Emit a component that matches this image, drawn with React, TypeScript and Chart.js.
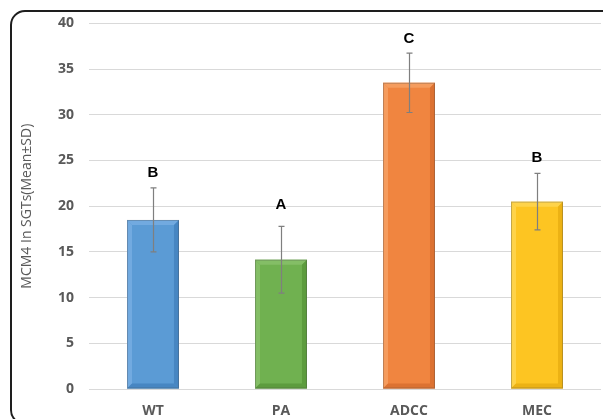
import React, { useEffect, useRef } from "react";
import { Chart, registerables } from "chart.js";

Chart.register(...registerables);

const categories = ["WT", "PA", "ADCC", "MEC"];
const means = [18.5, 14.15, 33.5, 20.5];
const sds = [3.5, 3.65, 3.25, 3.1];
const letters = ["B", "A", "C", "B"];
const letterY = [23.7, 20.1, 38.3, 25.3];
const yTicks = [0, 5, 10, 15, 20, 25, 30, 35, 40];
const barColors = ["#5b9bd5", "#70b150", "#f08540", "#fdc522"];
const lightColors = ["#72aae0", "#84be66", "#f59c5e", "#fed34a"];
const darkColors = ["#4786c2", "#5d9c3e", "#dc7232", "#ecb214"];

const bevelPlugin = {
  id: "bevel",
  afterDatasetsDraw(chart: any) {
    const ctx = chart.ctx;
    const meta = chart.getDatasetMeta(0);
    meta.data.forEach((bar: any, i: number) => {
      const w = bar.width;
      const l = bar.x - w / 2;
      const r = bar.x + w / 2;
      const t = bar.y;
      const b = bar.base;
      const bv = 5;
      ctx.save();
      ctx.fillStyle = lightColors[i];
      ctx.beginPath();
      ctx.moveTo(l, t);
      ctx.lineTo(l + bv, t + bv);
      ctx.lineTo(l + bv, b - bv);
      ctx.lineTo(l, b);
      ctx.closePath();
      ctx.fill();
      ctx.beginPath();
      ctx.moveTo(l, t);
      ctx.lineTo(r, t);
      ctx.lineTo(r - bv, t + bv);
      ctx.lineTo(l + bv, t + bv);
      ctx.closePath();
      ctx.fill();
      ctx.fillStyle = darkColors[i];
      ctx.beginPath();
      ctx.moveTo(r, t);
      ctx.lineTo(r - bv, t + bv);
      ctx.lineTo(r - bv, b - bv);
      ctx.lineTo(r, b);
      ctx.closePath();
      ctx.fill();
      ctx.beginPath();
      ctx.moveTo(l, b);
      ctx.lineTo(l + bv, b - bv);
      ctx.lineTo(r - bv, b - bv);
      ctx.lineTo(r, b);
      ctx.closePath();
      ctx.fill();
      ctx.strokeStyle = "rgba(70,70,70,0.3)";
      ctx.lineWidth = 1;
      ctx.strokeRect(l + 0.5, t + 0.5, w - 1, b - t - 1);
      ctx.restore();
    });
  },
};

const errorPlugin = {
  id: "errorBars",
  afterDatasetsDraw(chart: any) {
    const ctx = chart.ctx;
    const y = chart.scales.y;
    const meta = chart.getDatasetMeta(0);
    ctx.save();
    meta.data.forEach((bar: any, i: number) => {
      const x = Math.round(bar.x) + 0.5;
      const top = y.getPixelForValue(means[i] + sds[i]);
      const bot = y.getPixelForValue(means[i] - sds[i]);
      ctx.strokeStyle = "#7f7f7f";
      ctx.lineWidth = 1.2;
      ctx.beginPath();
      ctx.moveTo(x, top);
      ctx.lineTo(x, bot);
      ctx.moveTo(x - 3, top);
      ctx.lineTo(x + 3, top);
      ctx.moveTo(x - 3, bot);
      ctx.lineTo(x + 3, bot);
      ctx.stroke();
      ctx.fillStyle = "#000";
      ctx.font = "bold 15px 'Liberation Sans', Arial, sans-serif";
      ctx.textAlign = "center";
      ctx.textBaseline = "middle";
      ctx.fillText(letters[i], bar.x, y.getPixelForValue(letterY[i]));
    });
    ctx.restore();
  },
};

const framePlugin = {
  id: "frame",
  afterDraw(chart: any) {
    const ctx = chart.ctx;
    ctx.save();
    ctx.strokeStyle = "#1e1e1e";
    ctx.lineWidth = 2;
    const x = 11, yy = 11, w = 620, h = 413, r = 14;
    ctx.beginPath();
    ctx.moveTo(x + r, yy);
    ctx.lineTo(x + w - r, yy);
    ctx.arcTo(x + w, yy, x + w, yy + r, r);
    ctx.lineTo(x + w, yy + h - r);
    ctx.arcTo(x + w, yy + h, x + w - r, yy + h, r);
    ctx.lineTo(x + r, yy + h);
    ctx.arcTo(x, yy + h, x, yy + h - r, r);
    ctx.lineTo(x, yy + r);
    ctx.arcTo(x, yy, x + r, yy, r);
    ctx.closePath();
    ctx.stroke();
    ctx.restore();
  },
};

export default function App() {
  const ref = useRef<HTMLCanvasElement>(null);
  useEffect(() => {
    if (!ref.current) return;
    const chart = new Chart(ref.current, {
      type: "bar",
      data: {
        labels: categories,
        datasets: [
          {
            data: means,
            backgroundColor: barColors,
            borderWidth: 0,
            barPercentage: 0.406,
            categoryPercentage: 1,
          },
        ],
      },
      options: {
        animation: false,
        responsive: false,
        devicePixelRatio: 1,
        layout: { padding: { top: 23, right: 2, left: 0, bottom: 0 } },
        plugins: { legend: { display: false }, tooltip: { enabled: false } },
        scales: {
          x: {
            grid: { display: false },
            border: { display: false },
            ticks: {
              color: "#595959",
              font: { family: "'Open Sans', sans-serif", size: 14, weight: "bold" },
              padding: 6,
            },
            afterFit: (s: any) => {
              s.height = 30;
            },
          },
          y: {
            min: 0,
            max: 40,
            afterBuildTicks: (s: any) => {
              s.ticks = yTicks.map((v) => ({ value: v }));
            },
            grid: { color: "#d9d9d9", lineWidth: 1, drawTicks: false },
            border: { display: false },
            ticks: {
              color: "#595959",
              font: { family: "'Open Sans', sans-serif", size: 14, weight: "bold" },
              padding: 15,
            },
            title: {
              display: true,
              text: "MCM4 In SGTs(Mean±SD)",
              color: "#595959",
              font: { family: "'Open Sans', sans-serif", size: 14 },
              padding: { top: 19, bottom: 0 },
            },
            afterFit: (s: any) => {
              s.width = 89;
            },
          },
        },
      },
      plugins: [bevelPlugin, errorPlugin, framePlugin],
    });
    return () => chart.destroy();
  }, []);
  return (
    <div style={{ position: "fixed", left: 0, top: 0, width: 603, height: 419, background: "#fff" }}>
      <canvas ref={ref} width={603} height={419} style={{ display: "block" }} />
    </div>
  );
}
